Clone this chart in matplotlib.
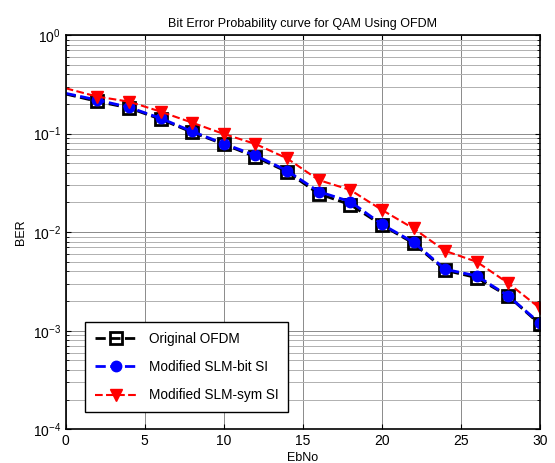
import numpy as np
import matplotlib.pyplot as plt
from matplotlib.ticker import LogLocator, NullFormatter

plt.rcParams['font.family'] = ['Liberation Sans', 'DejaVu Sans']
plt.rcParams['mathtext.fontset'] = 'custom'
plt.rcParams['mathtext.rm'] = 'Liberation Sans'

# Eb/No points (dB)
ebno = [0, 2, 4, 6, 8, 10, 12, 14, 16, 18, 20, 22, 24, 26, 28, 30]

# BER values
ber_orig = [0.252, 0.212, 0.182, 0.140, 0.103, 0.078, 0.058, 0.041, 0.0245, 0.019,
            0.0118, 0.0077, 0.0041, 0.00345, 0.00224, 0.00116]
ber_bit = [0.256, 0.219, 0.185, 0.143, 0.105, 0.079, 0.060, 0.042, 0.0258, 0.0204,
           0.0120, 0.0079, 0.0042, 0.0036, 0.00225, 0.00119]
ber_sym = [0.288, 0.237, 0.211, 0.167, 0.129, 0.099, 0.0785, 0.056, 0.0338, 0.0268,
           0.0168, 0.0109, 0.00645, 0.0050, 0.00303, 0.00169]

fig = plt.figure(figsize=(5.55, 4.63), dpi=100)
ax = fig.add_axes([0.1184, 0.0728, 0.8546, 0.8516])

marks = list(range(1, len(ebno)))
ax.semilogy(ebno, ber_orig, 'k--s', lw=2, ms=8, mfc='none', mew=2,
            markevery=marks, label='Original OFDM')
ax.semilogy(ebno, ber_bit, '--o', color='#0000ff', lw=2, ms=7.5, mfc='#0000ff',
            markevery=marks, label='Modified SLM-bit SI')
ax.semilogy(ebno, ber_sym, '--v', color='#ff0000', lw=1.5, ms=9, mfc='#ff0000',
            markevery=marks, label='Modified SLM-sym SI')

ax.set_xlim(0, 30)
ax.set_ylim(1e-4, 1)
ax.set_xticks([0, 5, 10, 15, 20, 25, 30])
ax.yaxis.set_major_locator(LogLocator(base=10, numticks=10))
ax.yaxis.set_minor_locator(LogLocator(base=10, subs=np.arange(2, 10), numticks=10))
ax.yaxis.set_minor_formatter(NullFormatter())

ax.grid(True, which='major', color='#8a8a8a', lw=0.7, ls='-')
ax.grid(True, which='minor', axis='y', color='#b0b0b0', lw=0.7, ls='-')
ax.set_axisbelow(True)

ax.tick_params(which='both', direction='in', top=True, right=True, labelsize=10)
for s in ax.spines.values():
    s.set_linewidth(1.2)

ax.set_title('Bit Error Probability curve for QAM Using OFDM', fontsize=9, pad=6)
ax.set_xlabel('EbNo', fontsize=9, labelpad=3)
ax.set_ylabel('BER', fontsize=9, labelpad=4)

leg = ax.legend(loc='lower left', bbox_to_anchor=(0.041, 0.044), borderaxespad=0,
                fontsize=9.8, fancybox=False, framealpha=1, edgecolor='black',
                handlelength=3.2, borderpad=0.7, labelspacing=1.05)
leg.get_frame().set_linewidth(1.0)

fig.savefig('out.png', dpi=100)
